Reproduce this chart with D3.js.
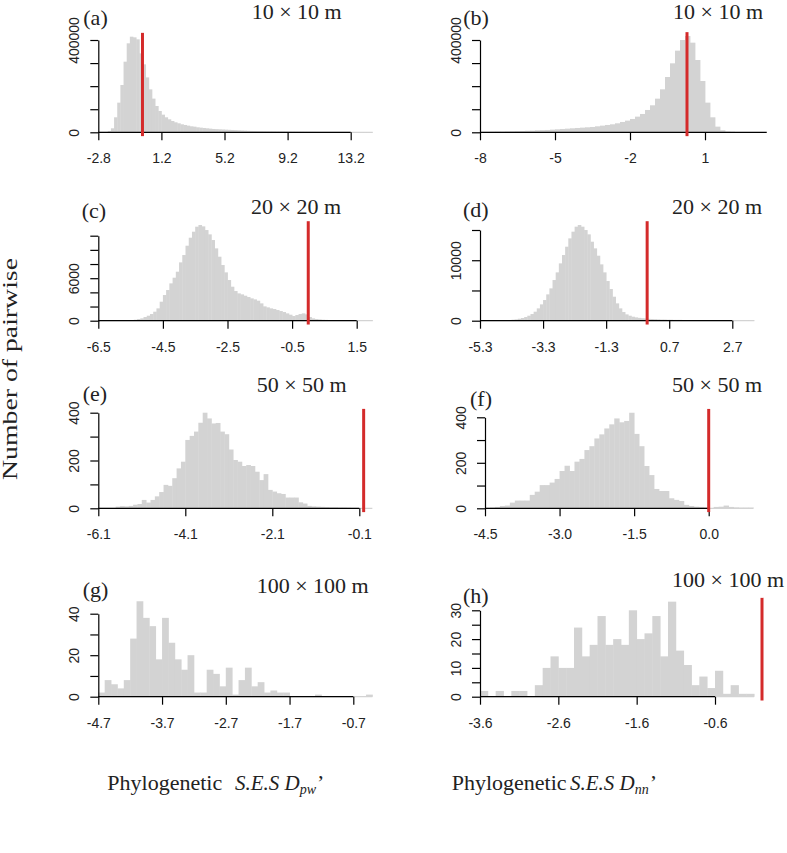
<!DOCTYPE html>
<html><head><meta charset="utf-8">
<script src="https://cdn.jsdelivr.net/npm/d3@7/dist/d3.min.js"></script>
<style>body{margin:0;background:#fff}</style>
</head><body>
<svg id="chart" width="787" height="853"></svg>
<script>
// ---------- data ----------
const countsA = [0,0,1400,5800,17300,65000,128500,205000,306000,385600,414400,411500,402900,342000,294600,238000,186000,146000,114000,92400,76500,65000,56300,49000,43300,39000,34700,31800,28900,26000,24500,21700,20200,18800,17300,15900,14400,13700,13000,12300,11500,10800,10100,9400,8700,7900,7200,6500,5800,5500,5100,4700,4300,4100,3900,3600,3400,3200,3000,2800,2600,2400,2300,2100,2000,1800,1700,1600,1500,1400,1300,1200,1100,1000,950,900,850,800,750,700,650,600,550,500,450,400,350];
const countsB = [1444,1444,2166,2888,2888,3610,4332,5054,5776,6498,7220,8664,9386,10108,11552,12996,14440,15884,17328,18772,20216,21660,23104,25992,28880,31768,34656,38988,44764,50540,57760,67868,79420,96748,116964,145844,186276,239704,298908,353780,399988,417316,388436,313348,222376,128516,64980,24548,8664,2888,722];
const countsC = [0,0,0,0,0,0,0,0,47,47,94,141,235,329,518,706,941,1271,1741,2682,3624,4330,5271,6071,6918,8236,9271,10589,11718,12565,13271,13506,13318,12800,12188,11388,10212,9036,7859,6824,5741,4800,4188,3859,3718,3529,3341,3153,3012,2824,2447,2024,1882,1741,1647,1506,1365,1224,1035,847,659,800,941,1035,894,518,329,235,188,141,118,94,70,70,70,70,70,47,47,47,24,24,24,24,24];
const countsD = [0,0,0,0,0,0,28,55,83,110,165,221,331,441,606,827,1103,1489,2040,2701,3418,4355,5348,6726,7994,9482,10861,12239,13617,14720,15547,15822,15547,14995,14279,13066,11963,10750,9317,7994,6560,5237,3969,2867,2040,1433,1047,827,662,551,469,413,358,303,276,248,221,193,193,165,165,138,138,138,110,110,110,83,83,83,83,55,55,55,55,55,28,28,28,28,28,28,28,28,28,28,28];
const countsE = [0,0,0,1,7,9,8,10,15,18,35,24,35,50,68,98,94,126,167,195,286,303,321,358,400,376,355,357,321,310,246,202,195,177,181,177,153,118,143,77,70,63,60,45,45,45,25,20,10,8,7,6,5,4,4,3,3,2,1,1,1,1,0];
const countsF = [0,3,6,10,12,25,34,34,34,59,73,102,102,113,129,164,187,164,205,217,256,273,307,325,351,369,395,378,384,420,327,273,186,146,85,76,76,44,37,32,15,10,7,6,4,1,6,7,12,6,4,3,3,3];
const countsG = [2,8,6,4,8,28,46,38,34,18,38,26,18,13,20,2,2,13,11,5,14,1,8,14,5,7,2,3,2,2,0,0,0,0,1,0,0,0,0,0,0,0,1];
const countsH = [2,0,2,0,2,2,0,4,10,14,10,10,24,14,18,28,18,20,18,30,20,22,28,14,33,16,11,4,7,3,9,1,4,1,1];

const binStart = {a:-2.8, b:-8, c:-6.5, d:-5.3, e:-6.1, f:-4.5, g:-4.7, h:-3.6};
const binWidth = {a:0.2, b:0.2, c:0.1, d:0.1, e:0.1, f:0.1, g:0.1, h:0.1};
const observed = {a:0, b:0.28, c:0, d:0, e:0, f:0, g:0, h:0};

const xTicksA = [-2.8,1.2,5.2,9.2,13.2];
const xTicksB = [-8,-5,-2,1];
const xTicksC = [-6.5,-4.5,-2.5,-0.5,1.5];
const xTicksD = [-5.3,-3.3,-1.3,0.7,2.7];
const xTicksE = [-6.1,-4.1,-2.1,-0.1];
const xTicksF = [-4.5,-3.0,-1.5,0.0];
const xTicksG = [-4.7,-3.7,-2.7,-1.7,-0.7];
const xTicksH = [-3.6,-2.6,-1.6,-0.6];
const xLabelsF = ["-4.5","-3.0","-1.5","0.0"];

const yTicksA = [0,100000,200000,300000,400000];
const yTicksC = [0,2000,4000,6000,8000,10000,12000];
const yTicksD = [0,5000,10000,15000];
const yTicksE = [0,100,200,300,400];
const yTicksG = [0,10,20,30,40];
const yTicksH = [0,5,10,15,20,25,30];
const yLabelledA = [0,400000];
const yLabelledC = [0,6000];
const yLabelledD = [0,10000];
const yLabelledE = [0,200,400];
const yLabelledG = [0,20,40];
const yLabelledH = [0,10,20,30];

const titles = {a:"10 × 10 m", b:"10 × 10 m", c:"20 × 20 m", d:"20 × 20 m", e:"50 × 50 m", f:"50 × 50 m", g:"100 × 100 m", h:"100 × 100 m"};

// ---------- layout ----------
const panels = [
  {id:"a", counts:countsA, xTicks:xTicksA, yTicks:yTicksA, yLab:yLabelledA, xr:[98.3,350.7], yr:[132.3,40], title:[251.7,18.5], tag:[83.3,25]},
  {id:"b", counts:countsB, xTicks:xTicksB, yTicks:yTicksA, yLab:yLabelledA, xr:[480,705], yr:[132.3,40], title:[673,18.5], tag:[463.3,25], axisEnd:3.47},
  {id:"c", counts:countsC, xTicks:xTicksC, yTicks:yTicksC, yLab:yLabelledC, xr:[98.3,356.7], yr:[320.7,235.7], title:[251,214.3], tag:[81.7,217.5]},
  {id:"d", counts:countsD, xTicks:xTicksD, yTicks:yTicksD, yLab:yLabelledD, xr:[480,732.3], yr:[320.7,230], title:[672,214.3], tag:[463,217]},
  {id:"e", counts:countsE, xTicks:xTicksE, yTicks:yTicksE, yLab:yLabelledE, xr:[98.3,359.3], yr:[508.3,412.7], title:[256.7,392.3], tag:[82.7,400.5]},
  {id:"f", counts:countsF, xTicks:xTicksF, xLabels:xLabelsF, yTicks:yTicksE, yLab:yLabelledE, xr:[485,708.7], yr:[508.3,417.3], title:[672,392.3], tag:[470,405.5]},
  {id:"g", counts:countsG, xTicks:xTicksG, yTicks:yTicksG, yLab:yLabelledG, xr:[98.3,353.3], yr:[696.7,613.7], title:[256.7,592.7], tag:[82.7,596.5]},
  {id:"h", counts:countsH, xTicks:xTicksH, yTicks:yTicksH, yLab:yLabelledH, xr:[480,715], yr:[696.7,610.3], title:[672,587.3], tag:[463,602.5]}
];

const svg = d3.select("#chart");
const GRAY = "#d3d3d3", RED = "#d42a2a";
const SANS = "'Liberation Sans', Arial, sans-serif";
const SERIF = "'Liberation Serif', 'Times New Roman', serif";

panels.forEach(p => {
  const g = svg.append("g");
  const xt = p.xTicks;
  const x = d3.scaleLinear().domain([xt[0], xt[xt.length-1]]).range(p.xr);
  const y = d3.scaleLinear().domain([0, p.yTicks[p.yTicks.length-1]]).range(p.yr);
  const s = binStart[p.id], w = binWidth[p.id];
  const bins = p.counts.map((c,i) => ({x0: +(s + i*w).toFixed(4), x1: +(s + (i+1)*w).toFixed(4), c}));
  const lo = bins[0].x0, hi = bins[bins.length-1].x1;

  g.append("line").attr("x1", x(lo)).attr("x2", x(hi)).attr("y1", y(0)).attr("y2", y(0))
    .attr("stroke", GRAY).attr("stroke-width", 1.2);
  g.selectAll("rect.bar").data(bins.filter(b => b.c > 0)).join("rect").attr("class","bar")
    .attr("x", d => x(d.x0)).attr("width", d => x(d.x1) - x(d.x0) + 0.4)
    .attr("y", d => y(d.c)).attr("height", d => y(0) - y(d.c)).attr("fill", GRAY);

  const xa = d3.axisBottom(x).tickValues(xt).tickSize(8).tickSizeOuter(0).tickPadding(13)
    .tickFormat((d,i) => p.xLabels ? p.xLabels[i] : String(d));
  const gx = g.append("g").attr("transform", `translate(0,${y(0)})`).call(xa);
  gx.select(".domain").remove();
  gx.append("line").attr("x1", x(xt[0])).attr("x2", x(p.axisEnd !== undefined ? p.axisEnd : xt[xt.length-1]))
    .attr("stroke", "#000").attr("stroke-width", 1.2);
  gx.selectAll(".tick line").attr("stroke", "#000").attr("stroke-width", 1.2);
  gx.selectAll(".tick text").attr("font-family", SANS).attr("font-size", 14).attr("fill", "#222");

  const ya = d3.axisLeft(y).tickValues(p.yTicks).tickSize(8).tickSizeOuter(0)
    .tickFormat(d => p.yLab.includes(d) ? String(d) : "");
  const gy = g.append("g").attr("transform", `translate(${x(xt[0])},0)`).call(ya);
  gy.select(".domain").attr("stroke", "#000").attr("stroke-width", 1.2);
  gy.selectAll(".tick line").attr("stroke", "#000").attr("stroke-width", 1.2);
  gy.selectAll(".tick text").attr("x", null).attr("dy", null)
    .attr("transform", "translate(-19,0) rotate(-90)").attr("text-anchor", "middle")
    .attr("font-family", SANS).attr("font-size", 14).attr("fill", "#222");

  const ymax = d3.max(p.counts);
  const span = hi - lo;
  const obs = observed[p.id];
  if (obs >= lo - 0.04*span && obs <= hi + 0.04*span) {
    g.append("line").attr("x1", x(obs)).attr("x2", x(obs))
      .attr("y1", y(-0.04*ymax)).attr("y2", y(1.04*ymax))
      .attr("stroke", RED).attr("stroke-width", 3);
  }

  g.append("text").attr("x", p.tag[0]).attr("y", p.tag[1]).text(`(${p.id})`)
    .attr("font-family", SERIF).attr("font-size", 22).attr("fill", "#222");
  g.append("text").attr("x", p.title[0]).attr("y", p.title[1]).text(titles[p.id])
    .attr("font-family", SERIF).attr("font-size", 22).attr("fill", "#222");
});

// y label
svg.append("text").attr("transform", "translate(17,369) rotate(-90)").attr("text-anchor", "middle")
  .attr("font-family", SERIF).attr("font-size", 20).attr("fill", "#222")
  .attr("textLength", 222).attr("lengthAdjust", "spacingAndGlyphs").text("Number of pairwise");

// x labels
function xLabel(x0, xs, sub) {
  const t = svg.append("text").attr("y", 790).attr("font-family", SERIF).attr("font-size", 22).attr("fill", "#222");
  t.append("tspan").attr("x", x0).text("Phylogenetic");
  t.append("tspan").attr("x", xs).attr("font-style", "italic").attr("font-size", 21).text("S.E.S D");
  t.append("tspan").attr("dy", 4).attr("font-size", 14).attr("font-style", "italic").text(sub);
  t.append("tspan").attr("dy", -4).attr("dx", 1).text("’");
}
xLabel(107.3, 235, "pw");
xLabel(451.7, 570, "nn");
</script>
</body></html>
